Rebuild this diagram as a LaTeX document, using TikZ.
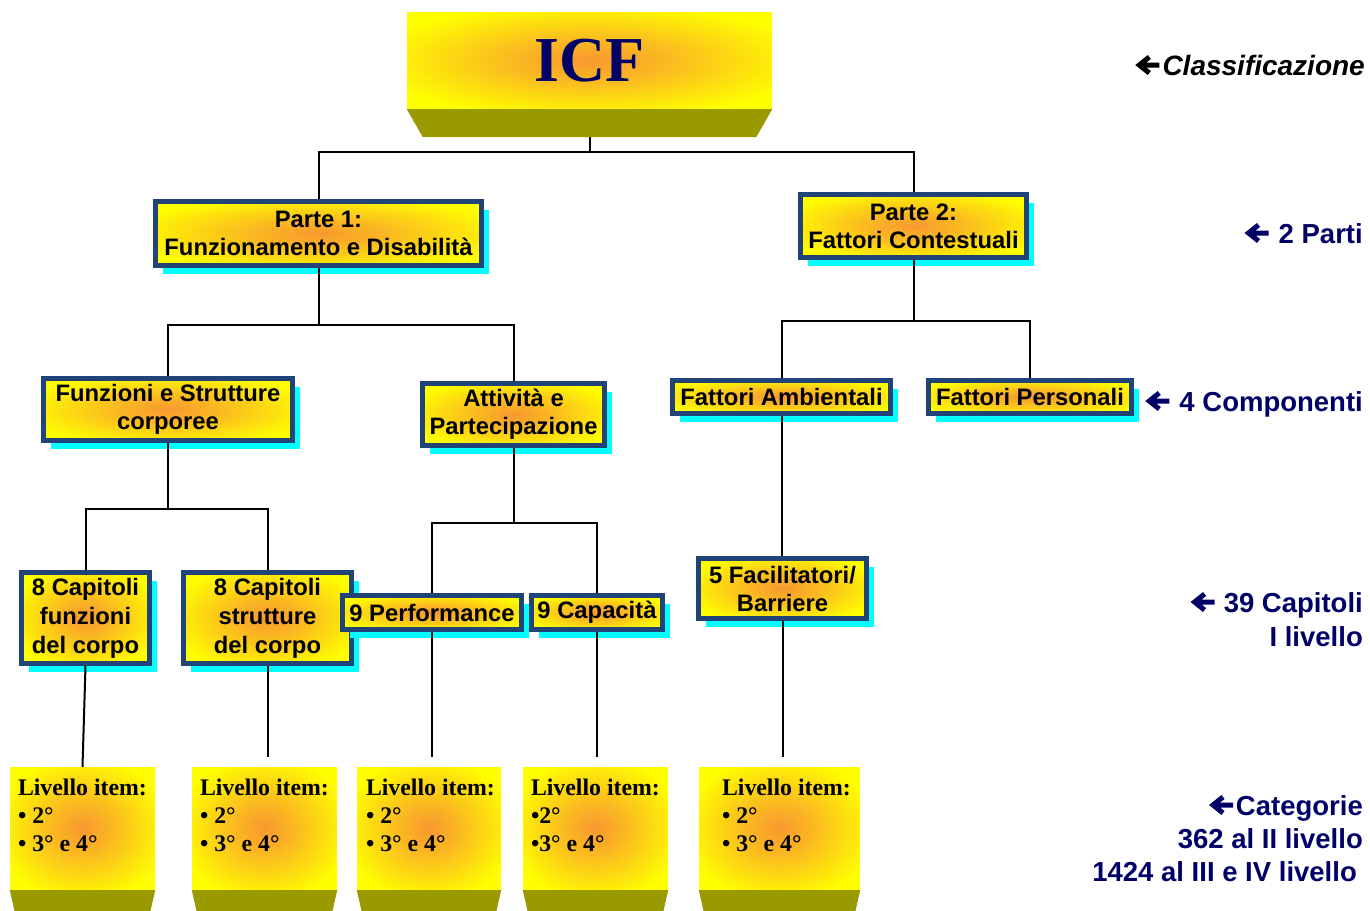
\documentclass[tikz,border=0pt]{standalone}
\usepackage{fontspec}
\setmainfont{Liberation Serif}
\setsansfont{Liberation Sans}
\usetikzlibrary{calc,shadows}

\definecolor{icfyellow}{RGB}{255,255,0}
\definecolor{icforange}{RGB}{248,152,48}
\definecolor{icfnavy}{RGB}{0,0,102}
\definecolor{icfborder}{RGB}{33,68,120}
\definecolor{icfolive}{RGB}{153,153,0}
\definecolor{icfcyan}{RGB}{0,255,255}

\pgfdeclareradialshading{icfglow}{\pgfpoint{0bp}{0bp}}{%
  color(0bp)=(icforange); color(10bp)=(icforange!70!icfyellow);
  color(30bp)=(icfyellow); color(50bp)=(icfyellow)}

\tikzset{
  % framed boxes of the tree
  icfbox/.style={draw=icfborder, line width=5pt, shade, shading=icfglow, inner sep=0pt,
    align=center, font=\sffamily\bfseries\fontsize{23.8}{28}\selectfont,
    drop shadow={shadow xshift=7pt, shadow yshift=-8pt, fill=icfcyan, opacity=1}},
  % taller chapter boxes
  chapbox/.style={icfbox, font=\sffamily\bfseries\fontsize{23.8}{29}\selectfont},
  % blocks with the olive base
  icfblock/.style={shade, shading=icfglow, inner sep=0pt},
  itemtext/.style={anchor=north west, inner sep=0pt, align=left,
    font=\rmfamily\bfseries\fontsize{23.8}{28}\selectfont},
  sidelabel/.style={anchor=north east, inner sep=0pt, align=right, text=icfnavy,
    font=\sffamily\bfseries\fontsize{27.5}{34}\selectfont},
  conn/.style={line width=2pt},
  leftarrow/.pic={\draw[line width=5pt, line join=miter] (0,0) -- (-18,0) (-10,-8) -- (-20,0) -- (-10,8);}
}

\begin{document}
\begin{tikzpicture}[x=1pt,y=1pt,yscale=-1,xscale=1]
        \useasboundingbox (0,0) rectangle (1370,910);
        % ICF block
        \node[icfblock, minimum width=365pt, minimum height=97pt, text=icfnavy,
          font=\rmfamily\bfseries\fontsize{64}{64}\selectfont] (icf) at (589.5,60.5) {ICF};
        \fill[icfolive] (icf.south west) -- (icf.south east) -- ++(-16,28) -- ($(icf.south west)+(16,28)$) -- cycle;
        \coordinate (icfbase) at ($(icf.south)+(0,28)$);
        % Parts
        \node[icfbox, minimum width=326pt, minimum height=64pt] (p1) at (318.5,233.5) {Parte 1:\\Funzionamento e Disabilità};
        \node[icfbox, minimum width=226pt, minimum height=63pt] (p2) at (913.5,226) {Parte 2:\\Fattori Contestuali};
        % Components
        \node[icfbox, minimum width=249pt, minimum height=62pt] (fsc) at (168,409.5) {Funzioni e Strutture\\corporee};
        \node[icfbox, minimum width=182pt, minimum height=62pt] (att) at (513.5,414.5) {Attività e\\Partecipazione};
        \node[icfbox, minimum width=218pt, minimum height=33pt] (fa) at (781.5,397) {Fattori Ambientali};
        \node[icfbox, minimum width=203pt, minimum height=33pt] (fp) at (1030,397) {Fattori Personali};
        % Chapters
        \node[chapbox, minimum width=128pt, minimum height=91pt] (c1) at (85.5,618) {8 Capitoli\\funzioni\\del corpo};
        \node[chapbox, minimum width=168pt, minimum height=91pt] (c2) at (267.5,618) {8 Capitoli\\strutture\\del corpo};
        \node[icfbox, minimum width=179pt, minimum height=34pt] (perf) at (432,612.5) {9 Performance};
        \node[icfbox, minimum width=131pt, minimum height=34pt] (cap) at (597,612.5) {9 Capacità};
        \node[icfbox, minimum width=168pt, minimum height=60pt] (fac) at (782.5,588.5) {5 Facilitatori/\\Barriere};
        % Item blocks
        \node[icfblock, minimum width=145pt, minimum height=123pt] (b1) at (82.5,828.5) {};
        \node[icfblock, minimum width=145pt, minimum height=123pt] (b2) at (264.5,828.5) {};
        \node[icfblock, minimum width=144pt, minimum height=123pt] (b3) at (429,828.5) {};
        \node[icfblock, minimum width=145pt, minimum height=123pt] (b4) at (595.5,828.5) {};
        \node[icfblock, minimum width=161pt, minimum height=123pt] (b5) at (779.5,828.5) {};
        \fill[icfolive] (b1.south west) -- (b1.south east) -- ++(-5,22) -- ($(b1.south west)+(5,22)$) -- cycle;
        \fill[icfolive] (b2.south west) -- (b2.south east) -- ++(-5,22) -- ($(b2.south west)+(5,22)$) -- cycle;
        \fill[icfolive] (b3.south west) -- (b3.south east) -- ++(-5,22) -- ($(b3.south west)+(5,22)$) -- cycle;
        \fill[icfolive] (b4.south west) -- (b4.south east) -- ++(-5,22) -- ($(b4.south west)+(5,22)$) -- cycle;
        \fill[icfolive] (b5.south west) -- (b5.south east) -- ++(-5,22) -- ($(b5.south west)+(5,22)$) -- cycle;
        \node[itemtext] (t1) at ($(b1.north west)+(8,12)$) {Livello item:\\• 2°\\• 3° e 4°};
        \node[itemtext] (t2) at ($(b2.north west)+(8,12)$) {Livello item:\\• 2°\\• 3° e 4°};
        \node[itemtext] (t3) at ($(b3.north west)+(9,12)$) {Livello item:\\• 2°\\• 3° e 4°};
        \node[itemtext] (t4) at ($(b4.north west)+(8,12)$) {Livello item:\\•2°\\•3° e 4°};
        \node[itemtext] (t5) at ($(b5.north west)+(23,12)$) {Livello item:\\• 2°\\• 3° e 4°};
        % Connection
        \draw[conn] (icfbase) -- ++(0,15) -| (p1.north);
        \draw[conn] (icfbase) -- ++(0,15) -| (p2.north);
        \draw[conn] (p1.south) -- ++(0,56.5) -| (fsc.north);
        \draw[conn] (p1.south) -- ++(0,56.5) -| (att.north);
        \draw[conn] (p2.south) -- ++(0,60.5) -| (fa.north);
        \draw[conn] (p2.south) -- ++(0,60.5) -| (fp.north);
        \draw[conn] (fsc.south) -- ++(0,65.5) -| (c1.north);
        \draw[conn] (fsc.south) -- ++(0,65.5) -| (c2.north);
        \draw[conn] (att.south) -- ++(0,74.5) -| (perf.north);
        \draw[conn] (att.south) -- ++(0,74.5) -| (cap.north);
        \draw[conn] (fa.south) -- (fa.south |- fac.north);
        % Connection
        \draw[conn] (c1.south) -- (b1.north);
        \draw[conn] (c2.south) -- ($(c2.south |- b2.north)+(0,-10)$);
        \draw[conn] (perf.south) -- ($(perf.south |- b3.north)+(0,-10)$);
        \draw[conn] (cap.south) -- ($(cap.south |- b4.north)+(0,-10)$);
        \draw[conn] (fac.south) -- ($(fac.south |- b5.north)+(0,-10)$);
        % Side labels
        \node[sidelabel, text=black, font=\sffamily\bfseries\itshape\fontsize{28}{34}\selectfont] (lclass) at (1365,55) {Classificazione};
        \pic[black] at ($(lclass.north west)+(-3,10)$) {leftarrow};
        \node[sidelabel] (lparti) at (1363,223) {2 Parti};
        \pic[icfnavy] at ($(lparti.north west)+(-10,10)$) {leftarrow};
        \node[sidelabel] (lcomp) at (1363,391) {4 Componenti};
        \pic[icfnavy] at ($(lcomp.north west)+(-10,10)$) {leftarrow};
        \node[sidelabel] (lcap) at (1363,592) {39 Capitoli\\I livello};
        \pic[icfnavy] at ($(lcap.north west)+(-9,10)$) {leftarrow};
        \node[sidelabel, font=\sffamily\bfseries\fontsize{27.5}{33}\selectfont] (lcat) at (1363,795) {Categorie\\362 al II livello\\1424 al III e IV livello\hspace*{6pt}};
        \pic[icfnavy] at ($(lcat.north east)+(-130,10)$) {leftarrow};
    \end{tikzpicture}
\end{document}
